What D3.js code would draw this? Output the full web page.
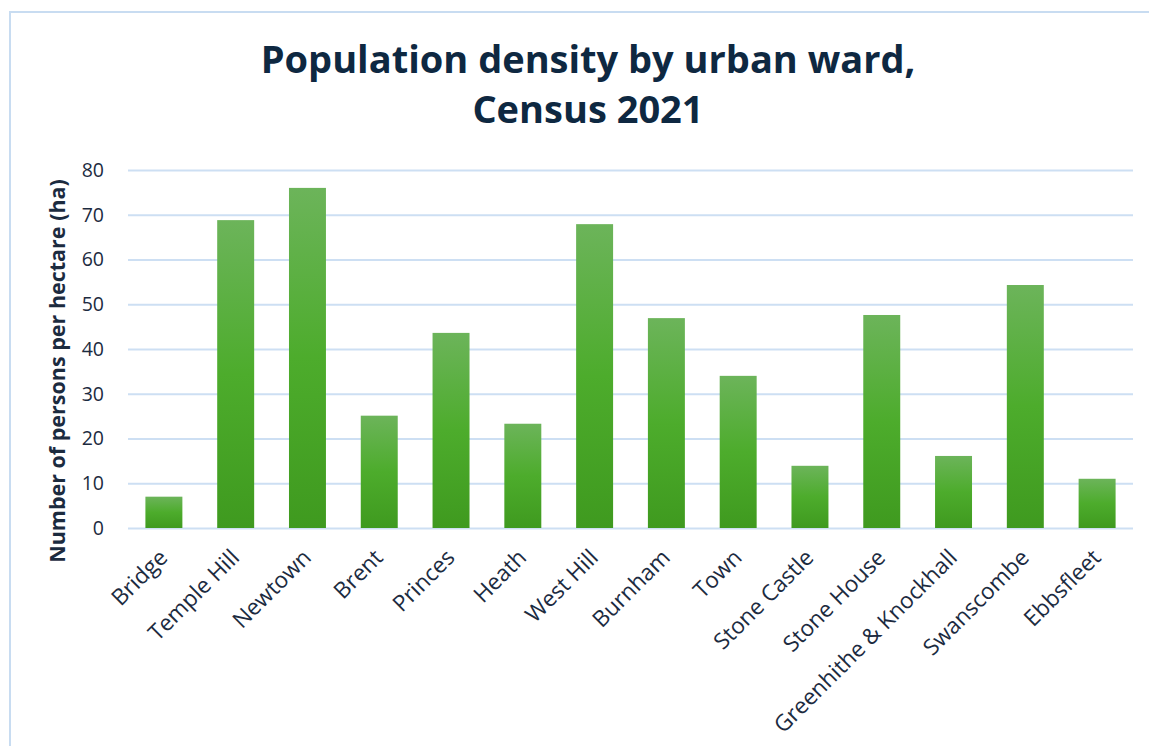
<!DOCTYPE html>
<html>
<head>
<meta charset="utf-8">
<script src="https://cdn.jsdelivr.net/npm/d3@7"></script>
<style>
  html, body { margin: 0; padding: 0; background: #ffffff; }
  svg { display: block; }
</style>
</head>
<body>
<svg id="chart" width="1149" height="746"></svg>
<script>
const wards = ["Bridge", "Temple Hill", "Newtown", "Brent", "Princes", "Heath", "West Hill",
  "Burnham", "Town", "Stone Castle", "Stone House", "Greenhithe & Knockhall", "Swanscombe", "Ebbsfleet"];
const density = [7.0, 68.8, 76.0, 25.1, 43.6, 23.3, 67.9, 46.9, 34.0, 13.9, 47.6, 16.1, 54.3, 11.0];
const yTicks = [0, 10, 20, 30, 40, 50, 60, 70, 80];
const titleLines = ["Population density by urban ward,", "Census 2021"];
const yTitle = "Number of persons per hectare (ha)";

const svg = d3.select("#chart");
const W = 1149, H = 746;
const plot = { left: 128, right: 1133, top: 170, bottom: 528 };
const textColor = "#1c2b3f";
const font = "'Open Sans', 'Liberation Sans', Arial, sans-serif";

// chart frame
svg.append("rect")
  .attr("x", 10).attr("y", 12)
  .attr("width", W).attr("height", H)
  .attr("fill", "#ffffff")
  .attr("stroke", "#c8dcf1").attr("stroke-width", 2);

const defs = svg.append("defs");
const grad = defs.append("linearGradient")
  .attr("id", "barGrad").attr("x1", 0).attr("y1", 0).attr("x2", 0).attr("y2", 1);
grad.append("stop").attr("offset", "0%").attr("stop-color", "#6cb45a");
grad.append("stop").attr("offset", "50%").attr("stop-color", "#4dac2c");
grad.append("stop").attr("offset", "100%").attr("stop-color", "#3f9a1f");

const x = d3.scaleBand().domain(wards)
  .range([plot.left, plot.right])
  .paddingInner(0.485).paddingOuter(0.2425);
const y = d3.scaleLinear().domain([0, 80]).range([plot.bottom, plot.top]);

// title
svg.append("g").selectAll("text").data(titleLines).join("text")
  .attr("x", 588)
  .attr("y", (d, i) => 73 + i * 50)
  .attr("text-anchor", "middle")
  .attr("font-family", font)
  .attr("font-weight", 700)
  .attr("font-size", 38)
  .attr("fill", "#0e2841")
  .text(d => d);

// gridlines
const yAxis = d3.axisLeft(y).tickValues(yTicks).tickSize(-(plot.right - plot.left)).tickPadding(24);
const gy = svg.append("g")
  .attr("transform", `translate(${plot.left},0)`)
  .call(yAxis);
gy.select(".domain").remove();
gy.selectAll(".tick line").attr("stroke", "#cddff3").attr("stroke-width", 2);
gy.selectAll(".tick text")
  .attr("font-family", font)
  .attr("font-size", 19.5)
  .attr("fill", textColor);

// bars
svg.append("g").selectAll("rect").data(density).join("rect")
  .attr("x", (d, i) => x(wards[i]))
  .attr("y", d => y(d))
  .attr("width", x.bandwidth())
  .attr("height", d => y(0) - y(d))
  .attr("fill", "url(#barGrad)");

// x labels
const xAxis = d3.axisBottom(x).tickSize(0).tickPadding(0);
const gx = svg.append("g")
  .attr("transform", `translate(0,${plot.bottom})`)
  .call(xAxis);
gx.select(".domain").remove();
gx.selectAll(".tick text")
  .attr("font-family", font)
  .attr("font-size", 22.5)
  .attr("fill", textColor)
  .attr("text-anchor", "end")
  .attr("dy", null)
  .attr("y", null)
  .attr("transform", "translate(5,31) rotate(-45)");

// y title
svg.append("text")
  .attr("transform", "translate(65,371) rotate(-90)")
  .attr("text-anchor", "middle")
  .attr("font-family", font)
  .attr("font-weight", 700)
  .attr("font-size", 21.5)
  .attr("fill", textColor)
  .text(yTitle);
</script>
</body>
</html>
